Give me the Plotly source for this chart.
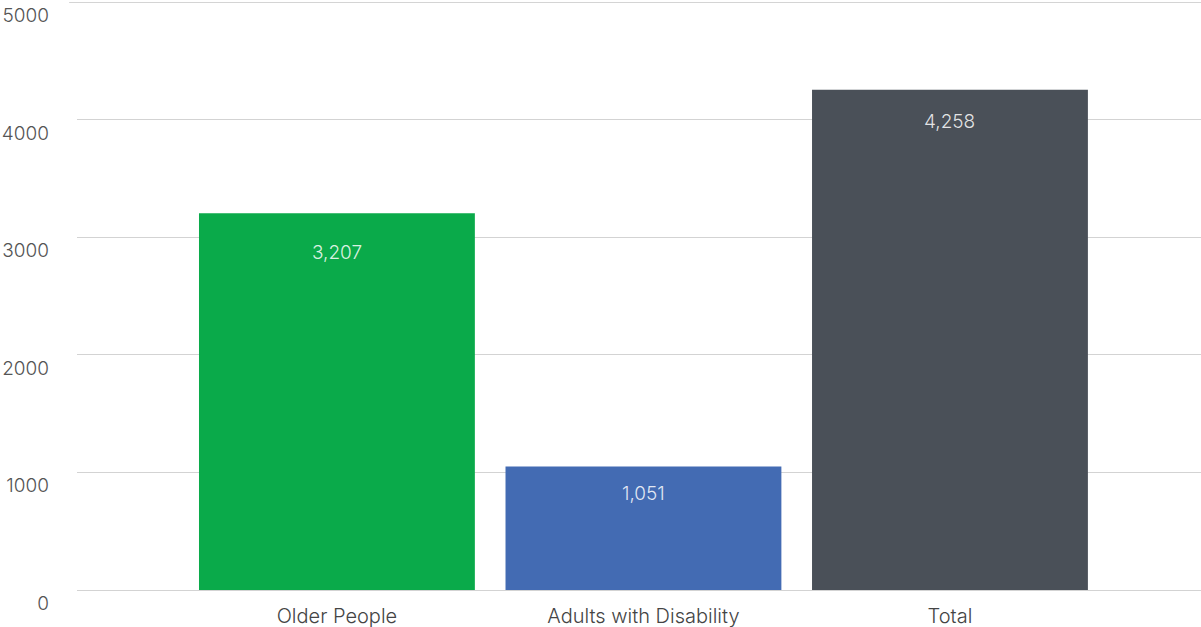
import plotly.graph_objects as go

# Bar chart data
categories = ["Older People", "Adults with Disability", "Total"]
values = [3207, 1051, 4258]
bar_colors = ["#0AAA4A", "#436BB3", "#4A5058"]
# how far below each bar top its value label sits (pixels)
label_offsets = [39, 27, 32]

y_ticks = [0, 1000, 2000, 3000, 4000, 5000]
y_max = 5000

FONT = "Inter"
GRID = "#D3D3D3"

fig = go.Figure()
fig.add_trace(go.Bar(
    x=categories,
    y=values,
    marker=dict(color=bar_colors, line=dict(width=0)),
    width=0.9,
    hoverinfo="skip",
))

for cat, val, off in zip(categories, values, label_offsets):
    fig.add_annotation(
        x=cat, y=val, text=f"{val:,}",
        showarrow=False, yshift=-off, yanchor="middle",
        font=dict(family=FONT, size=19, color="rgba(255,255,255,0.85)", weight=300),
    )

# top gridline, drawn as a shape so it sits right on the plot edge
fig.add_shape(
    type="line", xref="paper", yref="y",
    x0=-0.007, x1=1, y0=y_max, y1=y_max,
    line=dict(color=GRID, width=1), layer="below",
)

fig.update_layout(
    width=1201, height=627,
    margin=dict(l=77, r=0, t=2, b=37),
    paper_bgcolor="white",
    plot_bgcolor="white",
    showlegend=False,
    font=dict(family=FONT, size=18, color="#555555", weight=300),
    xaxis=dict(
        range=[-0.848, 2.819],
        showgrid=False,
        showline=False,
        zeroline=False,
        ticks="",
        tickfont=dict(family=FONT, size=20, color="#444444", weight=300),
        ticklabelstandoff=12,
    ),
    yaxis=dict(
        range=[0, 5004],
        tickvals=y_ticks,
        ticktext=[str(v) for v in y_ticks],
        showgrid=True,
        gridcolor=GRID,
        gridwidth=1,
        zeroline=True,
        zerolinecolor=GRID,
        zerolinewidth=1,
        showline=False,
        ticks="",
        tickfont=dict(family=FONT, size=19, color="#555555", weight=300),
        ticklabelshift=13,
        ticklabelstandoff=27,
    ),
)

fig.write_html("out.html")
